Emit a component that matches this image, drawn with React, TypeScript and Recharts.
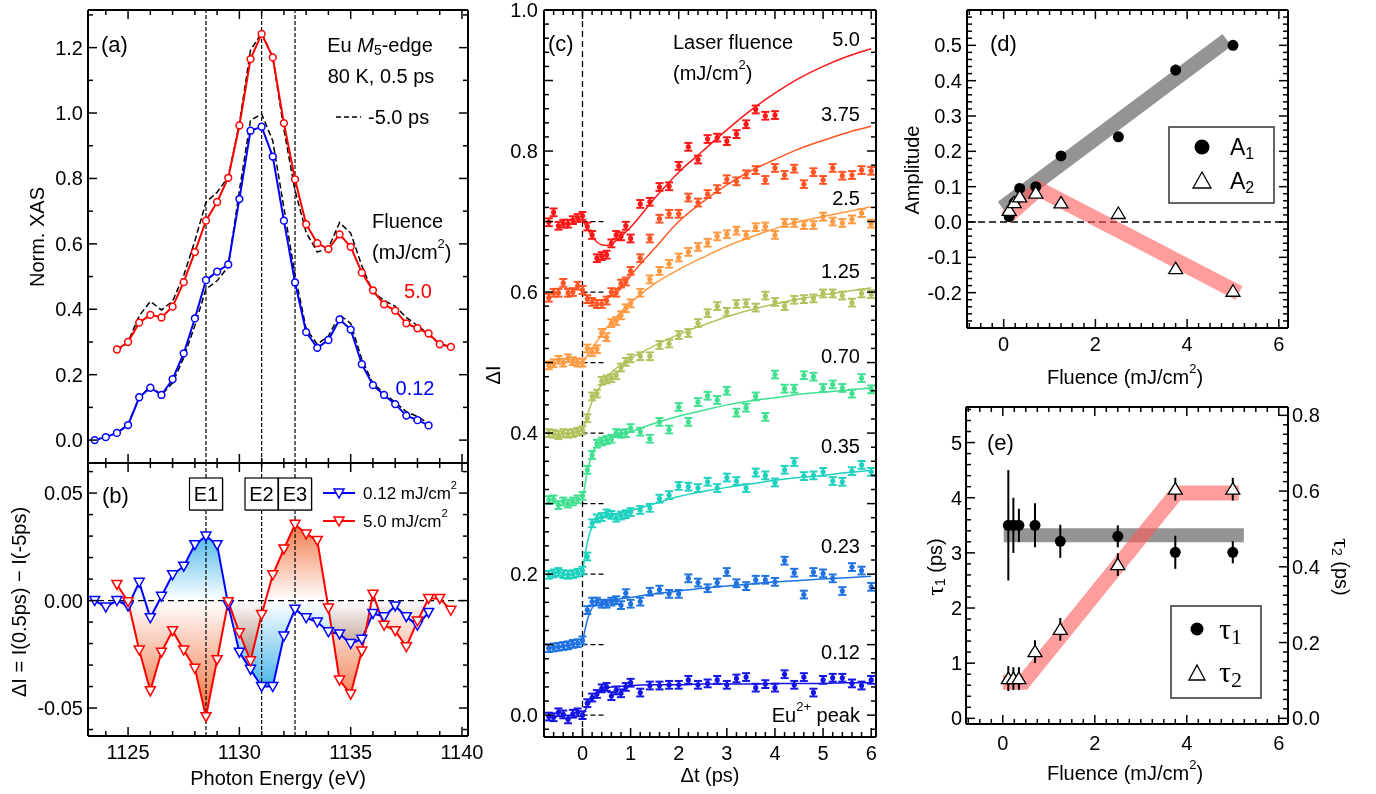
import React from 'react';
import { ComposedChart, Line, Area, Scatter, XAxis, YAxis, ReferenceLine, ErrorBar } from 'recharts';

const SANS = '"Liberation Sans", Arial, Helvetica, sans-serif';
const SERIF = '"Liberation Serif", "Times New Roman", serif';

// ---------- (a) XAS and (b) difference spectra ----------
const E_EV = [1123.5, 1124, 1124.5, 1125, 1125.5, 1126, 1126.5, 1127, 1127.5, 1128, 1128.5, 1129, 1129.5, 1130, 1130.5, 1131, 1131.5, 1132, 1132.5, 1133, 1133.5, 1134, 1134.5, 1135, 1135.5, 1136, 1136.5, 1137, 1137.5, 1138, 1138.5, 1139, 1139.5];
const XAS_LOW = [0.000, 0.009, 0.022, 0.046, 0.131, 0.160, 0.138, 0.186, 0.265, 0.372, 0.489, 0.515, 0.537, 0.737, 0.946, 0.958, 0.867, 0.671, 0.482, 0.330, 0.282, 0.306, 0.369, 0.338, 0.232, 0.168, 0.138, 0.110, 0.075, 0.061, 0.045, null, null];
const XAS_LOW_REF = [0.000, 0.011, 0.021, 0.049, 0.128, 0.166, 0.138, 0.175, 0.252, 0.350, 0.462, 0.487, 0.530, 0.763, 0.978, 0.997, 0.915, 0.710, 0.505, 0.340, 0.293, 0.318, 0.383, 0.357, 0.247, 0.173, 0.144, 0.115, 0.087, 0.072, 0.050, null, null];
const XAS_HIGH = [null, null, 0.277, 0.300, 0.359, 0.383, 0.375, 0.408, 0.483, 0.575, 0.671, 0.728, 0.802, 0.962, 1.165, 1.242, 1.170, 0.969, 0.797, 0.660, 0.602, 0.584, 0.629, 0.591, 0.512, 0.458, 0.415, 0.396, 0.357, 0.342, 0.326, 0.293, 0.285];
const XAS_HIGH_REF = [null, null, 0.272, 0.300, 0.380, 0.424, 0.398, 0.425, 0.503, 0.609, 0.727, 0.758, 0.804, 0.968, 1.192, 1.245, 1.170, 0.950, 0.763, 0.635, 0.575, 0.587, 0.665, 0.633, 0.533, 0.452, 0.427, 0.409, 0.375, 0.350, 0.323, 0.294, 0.287];
const DIFF_LOW = [0.000, -0.003, 0.000, -0.0025, 0.0085, -0.008, 0.002, 0.012, 0.016, 0.026, 0.030, 0.026, -0.002, -0.024, -0.032, -0.040, -0.040, -0.0165, -0.004, -0.008, -0.010, -0.0145, -0.0155, -0.020, -0.018, -0.006, -0.0075, -0.0025, -0.0075, -0.0115, -0.0055, null, null];
const DIFF_HIGH = [null, null, 0.0075, -0.0005, -0.023, -0.042, -0.024, -0.014, -0.023, -0.0315, -0.054, -0.0275, -0.0005, -0.015, -0.028, -0.0065, 0.012, 0.024, 0.0355, 0.031, 0.028, -0.0035, -0.037, -0.0435, -0.0235, 0.003, -0.0115, -0.014, -0.0215, -0.0095, 0.001, 0.001, -0.0045];
const E_LINES = [1128.5, 1131, 1132.5];

// ---------- (c) time traces ----------
const C_T = [-0.7, -0.6, -0.5, -0.4, -0.3, -0.2, -0.1, 0.0, 0.1, 0.2, 0.3, 0.4, 0.5, 0.6, 0.7, 0.8, 0.9, 1.0, 1.2, 1.4, 1.6, 1.8, 2.0, 2.2, 2.4, 2.6, 2.8, 3.0, 3.2, 3.4, 3.6, 3.8, 4.0, 4.2, 4.4, 4.6, 4.8, 5.0, 5.2, 5.4, 5.6, 5.8, 6.0];
const C_012 = [-0.002, -0.003, 0.004, 0.001, -0.006, 0.002, 0.004, 0.000, 0.017, 0.025, 0.030, 0.038, 0.040, 0.027, 0.035, 0.031, 0.040, 0.046, 0.032, 0.042, 0.042, 0.043, 0.043, 0.050, 0.043, 0.045, 0.050, 0.043, 0.052, 0.054, 0.039, 0.044, 0.039, 0.058, 0.043, 0.054, 0.032, 0.050, 0.053, 0.053, 0.045, 0.042, 0.050];
const C_023 = [0.095, 0.096, 0.097, 0.098, 0.099, 0.101, 0.102, 0.106, 0.149, 0.161, 0.161, 0.158, 0.158, 0.161, 0.163, 0.156, 0.173, 0.158, 0.161, 0.175, 0.178, 0.172, 0.172, 0.194, 0.188, 0.180, 0.188, 0.203, 0.187, 0.183, 0.192, 0.192, 0.189, 0.219, 0.202, 0.171, 0.203, 0.201, 0.194, 0.176, 0.210, 0.205, 0.182];
const C_035 = [0.199, 0.201, 0.203, 0.200, 0.199, 0.200, 0.202, 0.205, 0.225, 0.272, 0.279, 0.281, 0.286, 0.284, 0.280, 0.283, 0.285, 0.288, 0.291, 0.294, 0.307, 0.312, 0.325, 0.324, 0.322, 0.331, 0.322, 0.337, 0.332, 0.322, 0.344, 0.340, 0.330, 0.348, 0.359, 0.339, 0.340, 0.345, 0.332, 0.331, 0.346, 0.355, 0.345];
const C_070 = [0.305, 0.306, 0.298, 0.303, 0.300, 0.303, 0.306, 0.311, 0.348, 0.369, 0.385, 0.388, 0.390, 0.392, 0.400, 0.399, 0.400, 0.407, 0.402, 0.392, 0.416, 0.405, 0.437, 0.416, 0.444, 0.453, 0.447, 0.460, 0.429, 0.436, 0.452, 0.423, 0.483, 0.463, 0.463, 0.482, 0.480, 0.464, 0.469, 0.464, 0.456, 0.478, 0.462];
const C_125 = [0.400, 0.399, 0.397, 0.400, 0.399, 0.400, 0.402, 0.404, 0.421, 0.452, 0.456, 0.474, 0.476, 0.478, 0.482, 0.493, 0.501, 0.506, 0.509, 0.509, 0.525, 0.527, 0.539, 0.542, 0.556, 0.570, 0.580, 0.572, 0.583, 0.584, 0.578, 0.595, 0.586, 0.580, 0.589, 0.590, 0.591, 0.598, 0.598, 0.595, 0.585, 0.598, 0.597];
const C_250 = [0.496, 0.499, 0.504, 0.500, 0.506, 0.502, 0.500, 0.500, 0.520, 0.515, 0.519, 0.542, 0.536, 0.556, 0.559, 0.567, 0.577, 0.584, 0.599, 0.618, 0.630, 0.640, 0.649, 0.657, 0.664, 0.670, 0.679, 0.682, 0.687, 0.681, 0.692, 0.693, 0.681, 0.698, 0.698, 0.695, 0.695, 0.707, 0.700, 0.698, 0.703, 0.712, 0.697];
const C_375 = [0.592, 0.599, 0.599, 0.613, 0.599, 0.600, 0.609, 0.603, 0.590, 0.586, 0.583, 0.583, 0.588, 0.600, 0.599, 0.612, 0.615, 0.630, 0.648, 0.676, 0.704, 0.711, 0.711, 0.734, 0.727, 0.739, 0.746, 0.760, 0.757, 0.767, 0.773, 0.759, 0.776, 0.766, 0.775, 0.753, 0.770, 0.759, 0.776, 0.765, 0.766, 0.773, 0.772];
const C_500 = [0.699, 0.713, 0.694, 0.697, 0.697, 0.702, 0.705, 0.708, 0.693, 0.681, 0.648, 0.651, 0.653, 0.669, 0.681, 0.679, 0.694, 0.676, 0.725, 0.728, 0.749, 0.750, 0.779, 0.806, 0.788, 0.817, 0.819, 0.814, 0.824, 0.838, 0.859, 0.850, 0.851, null, null, null, null, null, null, null, null, null, null];
const C_ERR = 0.0055;

const C_FT = [0, 0.1, 0.2, 0.3, 0.4, 0.5, 0.6, 0.8, 1.0, 1.5, 2.0, 2.5, 3.0, 3.5, 4.0, 4.5, 5.0, 5.5, 6.0];
const FIT_012 = [0.000, 0.012, 0.022, 0.030, 0.035, 0.038, 0.040, 0.041, 0.042, 0.043, 0.043, 0.044, 0.044, 0.044, 0.045, 0.045, 0.045, 0.046, 0.046];
const FIT_023 = [0.103, 0.135, 0.152, 0.158, 0.160, 0.162, 0.163, 0.165, 0.167, 0.172, 0.176, 0.180, 0.183, 0.186, 0.189, 0.191, 0.193, 0.195, 0.197];
const FIT_035 = [0.203, 0.245, 0.268, 0.278, 0.281, 0.283, 0.284, 0.287, 0.290, 0.300, 0.310, 0.317, 0.323, 0.328, 0.333, 0.337, 0.340, 0.344, 0.347];
const FIT_070 = [0.305, 0.345, 0.370, 0.383, 0.388, 0.391, 0.393, 0.398, 0.402, 0.414, 0.424, 0.432, 0.440, 0.446, 0.450, 0.455, 0.458, 0.461, 0.464];
const FIT_125 = [0.402, 0.425, 0.445, 0.458, 0.469, 0.478, 0.486, 0.497, 0.506, 0.524, 0.540, 0.553, 0.565, 0.575, 0.583, 0.590, 0.596, 0.601, 0.606];
const FIT_250 = [0.500, 0.510, 0.520, 0.530, 0.540, 0.549, 0.557, 0.572, 0.585, 0.612, 0.632, 0.649, 0.665, 0.678, 0.690, 0.700, 0.707, 0.714, 0.721];
const FIT_375 = [0.600, 0.594, 0.591, 0.589, 0.589, 0.591, 0.594, 0.605, 0.623, 0.662, 0.700, 0.728, 0.752, 0.772, 0.788, 0.803, 0.815, 0.826, 0.835];
const FIT_500 = [0.703, 0.690, 0.679, 0.671, 0.667, 0.666, 0.668, 0.679, 0.692, 0.733, 0.770, 0.800, 0.830, 0.858, 0.882, 0.903, 0.920, 0.934, 0.945];

const C_FLUENCE = ['0.12', '0.23', '0.35', '0.70', '1.25', '2.5', '3.75', '5.0'];
const C_OFFSETS = [0, 0.1, 0.2, 0.3, 0.4, 0.5, 0.6, 0.7];
const C_COLORS = ['#1414e6', '#1f72e0', '#1ed2be', '#3fe08f', '#b0c35e', '#ff9a42', '#ff5424', '#ff1616'];
const C_DATA = [C_012, C_023, C_035, C_070, C_125, C_250, C_375, C_500];
const C_FITS = [FIT_012, FIT_023, FIT_035, FIT_070, FIT_125, FIT_250, FIT_375, FIT_500];

// ---------- (d) amplitudes, (e) time constants ----------
const F_MJ = [0.12, 0.23, 0.35, 0.70, 1.25, 2.5, 3.75, 5.0];
const A1 = [0.015, 0.055, 0.095, 0.100, 0.187, 0.241, 0.430, 0.500];
const A1_ERR = [0, 0, 0, 0, 0, 0, 0.015, 0];
const A2 = [0.033, 0.055, 0.071, 0.082, 0.054, 0.024, -0.132, -0.196];
const A1_GUIDE_X = [-0.03, 4.87];
const A1_GUIDE_Y = [0.040, 0.515];
const A2_GUIDE_X = [0.05, 0.76, 5.13];
const A2_GUIDE_Y = [0.012, 0.094, -0.201];

const TAU1 = [3.5, 3.5, 3.5, 3.5, 3.21, 3.30, 3.01, 3.01];
const TAU1_ERR = [1.0, 0.5, 0.3, 0.4, 0.3, 0.2, 0.3, 0.2];
const TAU2 = [0.105, 0.105, 0.105, 0.176, 0.235, 0.406, 0.605, 0.605];
const TAU2_ERR = [0.033, 0.03, 0.03, 0.03, 0.03, 0.03, 0.03, 0.03];
const TAU1_GUIDE_X = [0.02, 5.24];
const TAU1_GUIDE_Y = [3.32, 3.32];
const TAU2_GUIDE_X = [0.0, 0.45, 3.78, 5.13];
const TAU2_GUIDE_Y = [0.095, 0.095, 0.595, 0.595];

// ---------- layout ----------
// every axis gets a 1px band (recharts skips axes of zero size), the margin gives the rest
const PAD = { top: 30, right: 60, bottom: 45, left: 60 };
const MARGIN = { top: PAD.top - 1, right: PAD.right - 1, bottom: PAD.bottom - 1, left: PAD.left - 1 };
type Box = { L: number; T: number; R: number; B: number };
const BOX_A: Box = { L: 88, T: 10, R: 468, B: 463 };
const BOX_B: Box = { L: 88, T: 463, R: 468, B: 736 };
const BOX_C: Box = { L: 544, T: 10, R: 876, B: 737 };
const BOX_D: Box = { L: 967, T: 10, R: 1288, B: 328 };
const BOX_E: Box = { L: 966, T: 407, R: 1288, B: 724 };

function place(b: Box) {
  return {
    style: { position: 'absolute', left: b.L - PAD.left, top: b.T - PAD.top } as React.CSSProperties,
    w: b.R - b.L + PAD.left + PAD.right,
    h: b.B - b.T + PAD.top + PAD.bottom,
  };
}

type Ax = { d: [number, number]; minor: number; major: number; labels: number[]; digits: number; gap?: number };
const TM = 6;
const near = (a: number, b: number) => Math.abs(a - b) < 1e-7;

function steps(d: [number, number], s: number) {
  const out: number[] = [];
  for (let k = Math.ceil(d[0] / s - 1e-9); k <= Math.floor(d[1] / s + 1e-9); k++) out.push(Math.round(k * s * 1e6) / 1e6);
  return out;
}

const tickFont = { fontSize: 20, fontFamily: SANS, fill: '#000' };

function mkTick(orient: 'left' | 'right' | 'top' | 'bottom', ax: Ax, withLabels: boolean) {
  return (p: any) => {
    const v = Number(p.payload?.value);
    const r = v / ax.major;
    const len = near(r, Math.round(r)) ? 9 : 5;
    const lab = withLabels && ax.labels.some((l) => near(l, v)) ? v.toFixed(ax.digits) : null;
    const gap = ax.gap ?? 5;
    if (orient === 'left') {
      const x0 = p.x + TM;
      return (
        <g>
          <line x1={x0} x2={x0 + len} y1={p.y} y2={p.y} stroke="#000" strokeWidth={1.5} />
          {lab && <text x={x0 - gap} y={p.y} textAnchor="end" dominantBaseline="central" style={tickFont}>{lab}</text>}
        </g>
      );
    }
    if (orient === 'right') {
      const x0 = p.x - TM;
      return (
        <g>
          <line x1={x0} x2={x0 - len} y1={p.y} y2={p.y} stroke="#000" strokeWidth={1.5} />
          {lab && <text x={x0 + gap} y={p.y} textAnchor="start" dominantBaseline="central" style={tickFont}>{lab}</text>}
        </g>
      );
    }
    if (orient === 'top') {
      const y0 = p.y + TM;
      return <line x1={p.x} x2={p.x} y1={y0} y2={y0 + len} stroke="#000" strokeWidth={1.5} />;
    }
    const y0 = p.y - TM;
    return (
      <g>
        <line x1={p.x} x2={p.x} y1={y0} y2={y0 - len} stroke="#000" strokeWidth={1.5} />
        {lab && <text x={p.x} y={y0 + (ax.gap ?? 16)} textAnchor="middle" dominantBaseline="central" style={tickFont}>{lab}</text>}
      </g>
    );
  };
}

const AXLINE = { stroke: '#000', strokeWidth: 2 };

function frame(x: Ax, y: Ax, yr?: Ax, xLabels = true) {
  const r = yr ?? y;
  return [
    <XAxis key="xb" xAxisId="b" orientation="bottom" type="number" dataKey="x" domain={x.d} allowDataOverflow ticks={steps(x.d, x.minor)} interval={0} height={1} tickSize={0} tickMargin={TM} tickLine={false} axisLine={AXLINE} tick={mkTick('bottom', x, xLabels)} />,
    <XAxis key="xt" xAxisId="t" orientation="top" type="number" dataKey="x" domain={x.d} allowDataOverflow ticks={steps(x.d, x.minor)} interval={0} height={1} tickSize={0} tickMargin={TM} tickLine={false} axisLine={AXLINE} tick={mkTick('top', x, false)} />,
    <YAxis key="yl" yAxisId="l" orientation="left" type="number" domain={y.d} allowDataOverflow ticks={steps(y.d, y.minor)} interval={0} width={1} tickSize={0} tickMargin={TM} tickLine={false} axisLine={AXLINE} tick={mkTick('left', y, true)} />,
    <YAxis key="yr" yAxisId="r" orientation="right" type="number" domain={r.d} allowDataOverflow ticks={steps(r.d, r.minor)} interval={0} width={1} tickSize={0} tickMargin={TM} tickLine={false} axisLine={AXLINE} tick={mkTick('right', r, !!yr)} />,
  ];
}

// axes
const AX_E: Ax = { d: [1123.2, 1140.27], minor: 1, major: 5, labels: [1125, 1130, 1135, 1140], digits: 0 };
const AX_A_Y: Ax = { d: [-0.07, 1.315], minor: 0.1, major: 0.2, labels: [0, 0.2, 0.4, 0.6, 0.8, 1.0, 1.2], digits: 1 };
const AX_B_Y: Ax = { d: [-0.063, 0.064], minor: 0.01, major: 0.05, labels: [-0.05, 0, 0.05], digits: 2 };
const AX_C_X: Ax = { d: [-0.8, 6.1], minor: 0.2, major: 1, labels: [0, 1, 2, 3, 4, 5, 6], digits: 0 };
const AX_C_Y: Ax = { d: [-0.031, 1.0], minor: 0.02, major: 0.1, labels: [0, 0.2, 0.4, 0.6, 0.8, 1.0], digits: 1, gap: 6 };
const AX_F: Ax = { d: [-0.8, 6.2], minor: 0.25, major: 2, labels: [0, 2, 4, 6], digits: 0 };
const AX_F_E: Ax = { ...AX_F, gap: 19 };
const AX_D_Y: Ax = { d: [-0.3, 0.6], minor: 0.02, major: 0.1, labels: [-0.2, -0.1, 0, 0.1, 0.2, 0.3, 0.4, 0.5], digits: 1 };
const AX_E_YL: Ax = { d: [-0.103, 5.645], minor: 0.2, major: 1, labels: [0, 1, 2, 3, 4, 5], digits: 0, gap: 4 };
const AX_E_YR: Ax = { d: [-0.015, 0.822], minor: 0.025, major: 0.2, labels: [0, 0.2, 0.4, 0.6, 0.8], digits: 1, gap: 4 };

// where both difference curves lie on the same side of zero, the fills overlap (drawn brown)
const sharedPart = (a: number | null, b: number | null) => {
  if (a == null || b == null) return null;
  if (a * b <= 0) return 0;
  return Math.abs(a) < Math.abs(b) ? a : b;
};

const AB_ROWS = E_EV.map((x, i) => ({
  x,
  low: XAS_LOW[i],
  lowRef: XAS_LOW_REF[i],
  high: XAS_HIGH[i],
  highRef: XAS_HIGH_REF[i],
  dLow: DIFF_LOW[i],
  dHigh: DIFF_HIGH[i],
  dBoth: sharedPart(DIFF_LOW[i], DIFF_HIGH[i]),
}));

const BLUE = '#0000ff';
const RED = '#ff0000';

const ring = (c: string) => (p: any) =>
  p.cy == null || Number.isNaN(p.cy) || p.value == null ? <g key={p.index} /> : <circle key={p.index} cx={p.cx} cy={p.cy} r={3.4} fill="#fff" stroke={c} strokeWidth={1.5} />;
const triDown = (c: string) => (p: any) =>
  p.cy == null || Number.isNaN(p.cy) || p.value == null ? <g key={p.index} /> : (
    <polygon key={p.index} points={`${p.cx - 5},${p.cy - 4} ${p.cx + 5},${p.cy - 4} ${p.cx},${p.cy + 5}`} fill="#fff" stroke={c} strokeWidth={1.5} />
  );
const smallDot = (c: string) => (p: any) => <circle cx={p.cx} cy={p.cy} r={2.6} fill={c} />;
const bigDot = (p: any) => <circle cx={p.cx} cy={p.cy} r={5.5} fill="#000" />;
const triUp = (p: any) => (
  <polygon points={`${p.cx},${p.cy - 6.5} ${p.cx + 7},${p.cy + 5} ${p.cx - 7},${p.cy + 5}`} fill="#fff" stroke="#000" strokeWidth={1.3} />
);

const pairs = (xs: number[], ys: number[]) => xs.map((x, i) => ({ x, y: ys[i] }));

// raised text, optionally followed by text back on the baseline
const sup = (s: string, sz: number, after?: string) => (
  <>
    <tspan dy={-sz * 0.45} fontSize={sz * 0.65}>{s}</tspan>
    {after && <tspan dy={sz * 0.45}>{after}</tspan>}
  </>
);

export default function App() {
  const pa = place(BOX_A);
  const pb = place(BOX_B);
  const pc = place(BOX_C);
  const pd = place(BOX_D);
  const pe = place(BOX_E);

  // pixel y of a value inside chart (b) svg, for the gradients
  const bH = BOX_B.B - BOX_B.T;
  const byPix = (v: number) => PAD.top + ((AX_B_Y.d[1] - v) / (AX_B_Y.d[1] - AX_B_Y.d[0])) * bH;

  return (
    <div style={{ position: 'absolute', left: 0, top: 0, width: 1376, height: 794, background: '#fff', fontFamily: SANS }}>
      <style>{'.mult{mix-blend-mode:multiply}'}</style>

      {/* (a) */}
      <div style={pa.style}>
        <ComposedChart width={pa.w} height={pa.h} margin={MARGIN} data={AB_ROWS}>
          {frame(AX_E, AX_A_Y, undefined, false)}
          {E_LINES.map((e) => (
            <ReferenceLine key={e} x={e} xAxisId="b" yAxisId="l" stroke="#000" strokeWidth={1.2} strokeDasharray="4 2" />
          ))}
          <Line xAxisId="b" yAxisId="l" dataKey="highRef" stroke="#000" strokeWidth={1.5} strokeDasharray="6 3" dot={false} type="linear" isAnimationActive={false} />
          <Line xAxisId="b" yAxisId="l" dataKey="lowRef" stroke="#000" strokeWidth={1.5} strokeDasharray="6 3" dot={false} type="linear" isAnimationActive={false} />
          <Line xAxisId="b" yAxisId="l" dataKey="high" stroke={RED} strokeWidth={2} dot={ring(RED)} type="linear" isAnimationActive={false} />
          <Line xAxisId="b" yAxisId="l" dataKey="low" stroke={BLUE} strokeWidth={2} dot={ring(BLUE)} type="linear" isAnimationActive={false} />
        </ComposedChart>
      </div>

      {/* (b) */}
      <div style={pb.style}>
        <ComposedChart width={pb.w} height={pb.h} margin={MARGIN} data={AB_ROWS}>
          <defs>
            <linearGradient id="gBlue" gradientUnits="userSpaceOnUse" x1={0} x2={0} y1={byPix(0.035)} y2={byPix(-0.045)}>
              <stop offset={0} stopColor="#34aee8" />
              <stop offset={0.4375} stopColor="#ffffff" />
              <stop offset={1} stopColor="#34aee8" />
            </linearGradient>
            <linearGradient id="gRed" gradientUnits="userSpaceOnUse" x1={0} x2={0} y1={byPix(0.04)} y2={byPix(-0.055)}>
              <stop offset={0} stopColor="#ef6a36" />
              <stop offset={0.421} stopColor="#ffffff" />
              <stop offset={1} stopColor="#ef6a36" />
            </linearGradient>
            <linearGradient id="gBrown" gradientUnits="userSpaceOnUse" x1={0} x2={0} y1={byPix(0.035)} y2={byPix(-0.035)}>
              <stop offset={0} stopColor="#9a6450" />
              <stop offset={0.5} stopColor="#ffffff" />
              <stop offset={1} stopColor="#9a6450" />
            </linearGradient>
          </defs>
          {frame(AX_E, AX_B_Y)}
          <Area className="mult" xAxisId="b" yAxisId="l" dataKey="dLow" baseValue={0} stroke="none" fill="url(#gBlue)" fillOpacity={1} type="linear" dot={false} activeDot={false} isAnimationActive={false} />
          <Area className="mult" xAxisId="b" yAxisId="l" dataKey="dHigh" baseValue={0} stroke="none" fill="url(#gRed)" fillOpacity={1} type="linear" dot={false} activeDot={false} isAnimationActive={false} />
          <Area xAxisId="b" yAxisId="l" dataKey="dBoth" baseValue={0} stroke="none" fill="url(#gBrown)" fillOpacity={1} type="linear" dot={false} activeDot={false} isAnimationActive={false} />
          <ReferenceLine y={0} xAxisId="b" yAxisId="l" stroke="#000" strokeWidth={1.3} strokeDasharray="6 4" />
          {E_LINES.map((e) => (
            <ReferenceLine key={e} x={e} xAxisId="b" yAxisId="l" stroke="#000" strokeWidth={1.2} strokeDasharray="4 2" />
          ))}
          <Line xAxisId="b" yAxisId="l" dataKey="dLow" stroke={BLUE} strokeWidth={2} dot={triDown(BLUE)} type="linear" isAnimationActive={false} />
          <Line xAxisId="b" yAxisId="l" dataKey="dHigh" stroke={RED} strokeWidth={2} dot={triDown(RED)} type="linear" isAnimationActive={false} />
        </ComposedChart>
      </div>

      {/* (c) */}
      <div style={pc.style}>
        <ComposedChart width={pc.w} height={pc.h} margin={MARGIN}>
          {frame(AX_C_X, AX_C_Y)}
          <ReferenceLine x={0} xAxisId="b" yAxisId="l" stroke="#000" strokeWidth={1.3} strokeDasharray="6 4" />
          {C_OFFSETS.map((o) => (
            <ReferenceLine key={o} xAxisId="b" yAxisId="l" segment={[{ x: 0, y: o }, { x: 0.45, y: o }]} stroke="#000" strokeWidth={1.3} strokeDasharray="5 3" />
          ))}
          {C_FITS.map((f, k) => (
            <Line key={'f' + k} xAxisId="b" yAxisId="l" data={pairs(C_FT, f)} dataKey="y" stroke={C_COLORS[k]} strokeWidth={1.5} dot={false} type="monotone" isAnimationActive={false} />
          ))}
          {C_DATA.map((vals, k) => (
            <Scatter
              key={'s' + k}
              xAxisId="b"
              yAxisId="l"
              data={C_T.map((x, i) => ({ x, y: vals[i], e: C_ERR })).filter((d) => d.y != null)}
              dataKey="y"
              fill={C_COLORS[k]}
              shape={smallDot(C_COLORS[k])}
              isAnimationActive={false}
            >
              <ErrorBar dataKey="e" direction="y" width={4} stroke={C_COLORS[k]} strokeWidth={2} isAnimationActive={false} />
            </Scatter>
          ))}
        </ComposedChart>
      </div>

      {/* (d) */}
      <div style={pd.style}>
        <ComposedChart width={pd.w} height={pd.h} margin={MARGIN}>
          {frame(AX_F, AX_D_Y)}
          <ReferenceLine y={0} xAxisId="b" yAxisId="l" stroke="#000" strokeWidth={1.3} strokeDasharray="7 4" />
          <Line xAxisId="b" yAxisId="l" data={pairs(A1_GUIDE_X, A1_GUIDE_Y)} dataKey="y" stroke="#666" strokeOpacity={0.7} strokeWidth={15} dot={false} type="linear" isAnimationActive={false} />
          <Line xAxisId="b" yAxisId="l" data={pairs(A2_GUIDE_X, A2_GUIDE_Y)} dataKey="y" stroke="#ff5a5a" strokeOpacity={0.6} strokeWidth={15} dot={false} type="linear" isAnimationActive={false} />
          <Scatter xAxisId="b" yAxisId="l" data={F_MJ.map((x, i) => ({ x, y: A1[i], e: A1_ERR[i] }))} dataKey="y" fill="#000" shape={bigDot} isAnimationActive={false}>
            <ErrorBar dataKey="e" direction="y" width={0} stroke="#000" strokeWidth={2} isAnimationActive={false} />
          </Scatter>
          <Scatter xAxisId="b" yAxisId="l" data={pairs(F_MJ, A2)} dataKey="y" fill="#fff" shape={triUp} isAnimationActive={false} />
        </ComposedChart>
      </div>

      {/* (e) */}
      <div style={pe.style}>
        <ComposedChart width={pe.w} height={pe.h} margin={MARGIN}>
          {frame(AX_F_E, AX_E_YL, AX_E_YR)}
          <Line xAxisId="b" yAxisId="l" data={pairs(TAU1_GUIDE_X, TAU1_GUIDE_Y)} dataKey="y" stroke="#666" strokeOpacity={0.7} strokeWidth={14} dot={false} type="linear" isAnimationActive={false} />
          <Line xAxisId="b" yAxisId="r" data={pairs(TAU2_GUIDE_X, TAU2_GUIDE_Y)} dataKey="y" stroke="#ff5a5a" strokeOpacity={0.6} strokeWidth={15} dot={false} type="linear" isAnimationActive={false} />
          <Scatter xAxisId="b" yAxisId="l" data={F_MJ.map((x, i) => ({ x, y: TAU1[i], e: TAU1_ERR[i] }))} dataKey="y" fill="#000" shape={bigDot} isAnimationActive={false}>
            <ErrorBar dataKey="e" direction="y" width={0} stroke="#000" strokeWidth={2} isAnimationActive={false} />
          </Scatter>
          <Scatter xAxisId="b" yAxisId="r" data={F_MJ.map((x, i) => ({ x, y: TAU2[i], e: TAU2_ERR[i] }))} dataKey="y" fill="#fff" shape={triUp} isAnimationActive={false}>
            <ErrorBar dataKey="e" direction="y" width={0} stroke="#000" strokeWidth={2} isAnimationActive={false} />
          </Scatter>
        </ComposedChart>
      </div>

      {/* annotations */}
      <svg width={1376} height={794} style={{ position: 'absolute', left: 0, top: 0, pointerEvents: 'none' }} fontFamily={SANS} fontSize={20}>
        <g dominantBaseline="central">
          {/* (a) */}
          <text x={101} y={44} fontSize={22}>(a)</text>
          <text x={380} y={45} textAnchor="middle">Eu <tspan fontStyle="italic">M</tspan><tspan fontSize={14} dy={5}>5</tspan><tspan dy={-5}>-edge</tspan></text>
          <text x={381} y={76} textAnchor="middle">80 K, 0.5 ps</text>
          <line x1={336} x2={361} y1={117} y2={117} stroke="#000" strokeWidth={1.5} strokeDasharray="5 3" />
          <text x={368} y={117}>-5.0 ps</text>
          <text x={372} y={221}>Fluence</text>
          <text x={372} y={252}>(mJ/cm{sup('2', 20, ')')}</text>
          <text x={418} y={291} textAnchor="middle" fill={RED}>5.0</text>
          <text x={415} y={388} textAnchor="middle" fill={BLUE}>0.12</text>
          <text x={37} y={237} textAnchor="middle" transform="rotate(-90 37 237)">Norm. XAS</text>

          {/* (b) */}
          <text x={102} y={495} fontSize={22}>(b)</text>
          <line x1={323} x2={355} y1={493} y2={493} stroke={BLUE} strokeWidth={2} />
          <polygon points="334,489 344,489 339,498" fill="#fff" stroke={BLUE} strokeWidth={1.5} />
          <text x={363} y={493} fontSize={17}>0.12 mJ/cm{sup('2', 17)}</text>
          <line x1={323} x2={355} y1={521} y2={521} stroke={RED} strokeWidth={2} />
          <polygon points="334,517 344,517 339,526" fill="#fff" stroke={RED} strokeWidth={1.5} />
          <text x={363} y={521} fontSize={17}>5.0 mJ/cm{sup('2', 17)}</text>
          {[
            ['E1', 189.5],
            ['E2', 245],
            ['E3', 278.5],
          ].map(([t, x]) => (
            <g key={t as string}>
              <rect x={(x as number) + 1} y={479} width={33} height={32} fill="#999" />
              <rect x={x as number} y={478} width={33} height={32} fill="#fff" stroke="#000" strokeWidth={1.2} />
              <text x={(x as number) + 16.5} y={494} textAnchor="middle">{t}</text>
            </g>
          ))}
          <text x={19} y={602} textAnchor="middle" transform="rotate(-90 19 602)">ΔI = I(0.5ps) − I(-5ps)</text>
          <text x={278} y={778} textAnchor="middle">Photon Energy (eV)</text>

          {/* (c) */}
          <text x={548} y={43} fontSize={22}>(c)</text>
          <text x={673} y={42}>Laser fluence</text>
          <text x={673} y={73}>(mJ/cm{sup('2', 20, ')')}</text>
          {C_FLUENCE.map((f, k) => (
            <text key={f} x={860} y={[652, 546, 446, 356, 271, 198, 114, 39][k]} textAnchor="end">{f}</text>
          ))}
          <text x={860} y={715} textAnchor="end">Eu{sup('2+', 20, ' peak')}</text>
          <text x={493} y={375} textAnchor="middle" transform="rotate(-90 493 375)">ΔI</text>
          <text x={710} y={775} textAnchor="middle">Δt (ps)</text>

          {/* (d) */}
          <text x={990} y={43} fontSize={22}>(d)</text>
          <rect x={1169} y={127} width={105} height={76} fill="#fff" stroke="#333" strokeWidth={1.5} />
          <circle cx={1202} cy={147} r={7.5} fill="#000" />
          <text x={1230} y={147} fontSize={23}>A<tspan fontSize={16} dy={6}>1</tspan></text>
          <polygon points="1202,172 1211,188 1193,188" fill="#fff" stroke="#000" strokeWidth={1.3} />
          <text x={1230} y={181} fontSize={23}>A<tspan fontSize={16} dy={6}>2</tspan></text>
          <text x={912} y={170} textAnchor="middle" transform="rotate(-90 912 170)">Amplitude</text>
          <text x={1125} y={377} textAnchor="middle">Fluence (mJ/cm{sup('2', 20, ')')}</text>

          {/* (e) */}
          <text x={987} y={442} fontSize={22}>(e)</text>
          <rect x={1171} y={606} width={90} height={92} fill="#fff" stroke="#333" strokeWidth={1.5} />
          <circle cx={1197} cy={629} r={6.5} fill="#000" />
          <text x={1219} y={628} fontSize={30} fontFamily={SERIF}>τ<tspan fontSize={22} dy={8}>1</tspan></text>
          <polygon points="1197,665 1205,680 1189,680" fill="#fff" stroke="#000" strokeWidth={1.3} />
          <text x={1219} y={671} fontSize={30} fontFamily={SERIF}>τ<tspan fontSize={22} dy={8}>2</tspan></text>
          <text x={935} y={567} textAnchor="middle" transform="rotate(-90 935 567)">
            <tspan fontFamily={SERIF} fontSize={24}>τ</tspan><tspan fontSize={14} dy={5}>1</tspan><tspan dy={-5}> (ps)</tspan>
          </text>
          <text x={1342} y={567} textAnchor="middle" transform="rotate(90 1342 567)">
            <tspan fontFamily={SERIF} fontSize={24}>τ</tspan><tspan fontSize={14} dy={5}>2</tspan><tspan dy={-5}> (ps)</tspan>
          </text>
          <text x={1125} y={773} textAnchor="middle">Fluence (mJ/cm{sup('2', 20, ')')}</text>
        </g>
      </svg>
    </div>
  );
}
